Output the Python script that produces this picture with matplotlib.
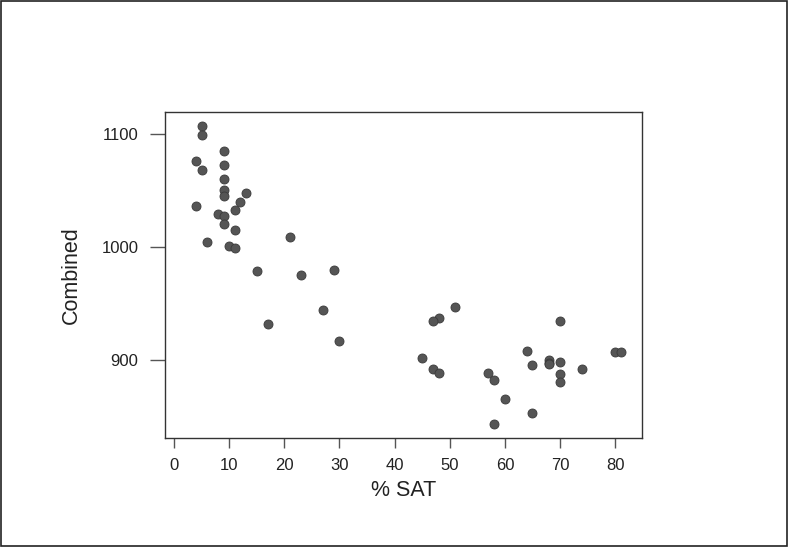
import numpy as np
import matplotlib
matplotlib.use("Agg")
import matplotlib.pyplot as plt
from matplotlib.patches import Rectangle

plt.rcParams['font.family'] = ['Liberation Sans', 'DejaVu Sans']

# % of students taking the SAT, and the combined score
pct_sat = [5, 5, 9, 4, 9, 5, 9, 9, 9, 13, 12, 11, 4, 8, 9, 9, 11, 6, 10, 11,
           21, 15, 23, 29, 27, 17, 30,
           51, 48, 47, 70, 45, 47, 48, 64, 65, 68, 68, 68, 70, 70, 70, 74,
           80, 81, 57, 58, 60, 65, 58]
combined = [1107, 1099, 1085, 1076, 1073, 1068, 1060, 1050, 1045, 1048, 1040,
            1033, 1036, 1029, 1027, 1020, 1015, 1004, 1001, 999,
            1009, 979, 975, 980, 944, 932, 917,
            947, 937, 934, 934, 902, 892, 888, 908, 895, 900, 897, 896, 898,
            887, 880, 892, 907, 907, 888, 882, 865, 853, 843]

xticks = [0, 10, 20, 30, 40, 50, 60, 70, 80]
yticks = [900, 1000, 1100]

fig = plt.figure(figsize=(7.89, 5.47), dpi=100)
ax = fig.add_axes([0.2091, 0.1998, 0.6042, 0.5954])

ax.scatter(pct_sat, combined, s=6.5**2, color='#555555', edgecolors='#3a3a3a',
           linewidths=0.6, zorder=3)

ax.set_xlim(-1.63, 84.8)
ax.set_ylim(831, 1119.5)
ax.set_xticks(xticks)
ax.set_yticks(yticks)

for sp in ax.spines.values():
    sp.set_color('#333333')
    sp.set_linewidth(1.0)

ax.tick_params(axis='x', length=7.5, width=1, color='#555555', pad=7,
               labelsize=12, labelcolor='#222222')
ax.tick_params(axis='y', length=11, width=1, color='#555555', pad=8,
               labelsize=12, labelcolor='#222222')

ax.set_xlabel('% SAT', fontsize=15.5, color='#222222')
ax.set_ylabel('Combined', fontsize=15.5, color='#222222')
ax.xaxis.label.set_va('center')
ax.yaxis.label.set_va('center')
ax.xaxis.set_label_coords(0.5, -0.163)
ax.yaxis.set_label_coords(-0.196, 0.5)

# thin frame round the whole picture
fig.patches.append(Rectangle((0.001, 0.001), 0.997, 0.997, transform=fig.transFigure,
                             fill=False, edgecolor='#222222', linewidth=1.2))

fig.savefig('out.png', dpi=100)
